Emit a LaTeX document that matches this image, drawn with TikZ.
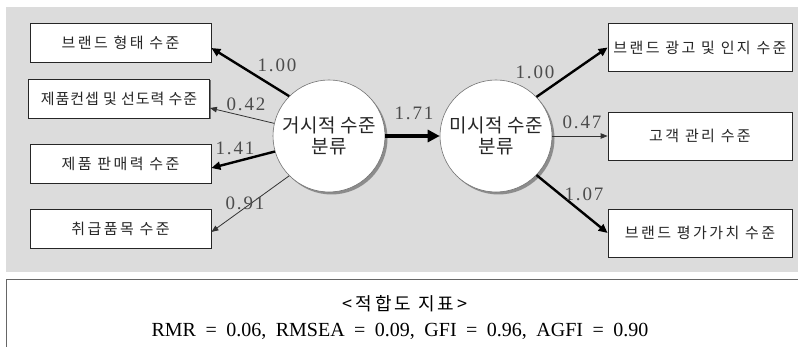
\documentclass[tikz,border=0pt]{standalone}
\usepackage{fontspec}
\setmainfont{Liberation Serif}
\newfontfamily\krbox[LetterSpace=16]{Noto Sans CJK KR}
\newfontfamily\krtight[LetterSpace=6]{Noto Sans CJK KR}
\newfontfamily\krcirc[LetterSpace=3]{Noto Sans CJK KR}
\newfontfamily\krtitle[LetterSpace=16]{Noto Sans CJK KR}
\newfontfamily\coef[LetterSpace=10]{Liberation Serif}
\usetikzlibrary{arrows.meta,shadows}

\definecolor{panel}{HTML}{DCDCDC}

\begin{document}
\begin{tikzpicture}[x=1pt,y=-1pt,
  indicator/.style={draw=black!85, line width=0.8pt, fill=white, inner sep=0pt,
    drop shadow={shadow xshift=1pt, shadow yshift=-1pt, fill=black!55, opacity=1},
    font=\krbox\fontsize{15}{17}\selectfont, text=black!85},
  lbox/.style={indicator, minimum width=181pt, minimum height=39pt},
  rbox/.style={indicator, minimum width=184pt, minimum height=48pt},
  latent/.style={circle, draw=black!55, line width=0.6pt, fill=white,
    minimum size=112pt, inner sep=0pt, align=center, text=black!85,
    drop shadow={shadow xshift=2.5pt, shadow yshift=-2.5pt, fill=black!45, opacity=1},
    font=\krcirc\fontsize{19}{21}\selectfont},
  coefl/.style={font=\coef\fontsize{19}{19}\selectfont, text=black!70, inner sep=0pt},
  heavy/.style={line width=2.4pt, draw=black, -{Triangle[length=9pt,width=8pt]}},
  light/.style={line width=0.8pt, draw=black!80, -{Triangle[length=7pt,width=5.5pt]}},
  structural/.style={line width=4.5pt, draw=black, -{Triangle[length=12pt,width=12pt]}}
]
\useasboundingbox (0,0) rectangle (798,347);

% grey panel behind the path model
\fill[panel] (6,7) rectangle (800,272);

% observed indicators, left side
\node[lbox] (m1) at (120.5,42.5) {브랜드 형태 수준};
\node[lbox, font=\krtight\fontsize{15}{17}\selectfont] (m2) at (119,98.5) {제품컨셉 및 선도력 수준};
\node[lbox] (m3) at (120.5,163.5) {제품 판매력 수준};
\node[lbox] (m4) at (120.5,228.5) {취급품목 수준};

% observed indicators, right side
\node[rbox] (n1) at (700,47.5) {브랜드 광고 및 인지 수준};
\node[rbox] (n2) at (700,136) {고객 관리 수준};
\node[rbox] (n3) at (700,233) {브랜드 평가가치 수준};

% latent factors
\node[latent] (macro) at (329,136) {거시적 수준\\분류};
\node[latent] (micro) at (496,136) {미시적 수준\\분류};

% loadings
\draw[heavy] (macro.135) -- ([yshift=-5.5pt]m1.east);
\draw[light] (macro.167) -- ([yshift=-9.5pt]m2.east);
\draw[heavy] (macro.196) -- ([yshift=-4.5pt]m3.east);
\draw[light] (macro.225) -- ([yshift=-3.5pt]m4.east);
\draw[structural] (macro) -- (micro);
\draw[heavy] (micro.44) -- (n1.west);
\draw[light] (micro.0) -- (n2.west);
\draw[heavy] (micro.-44) -- (n3.west);

% coefficients
\node[coefl] (c1) at (277,65) {1.00};
\node[coefl] (c2) at (246,104) {0.42};
\node[coefl] (c3) at (235,148) {1.41};
\node[coefl] (c4) at (245,203) {0.91};
\node[coefl] (c5) at (414,113) {1.71};
\node[coefl] (c6) at (535,72) {1.00};
\node[coefl] (c7) at (582,122) {0.47};
\node[coefl] (c8) at (584,194) {1.07};

% fit indices
\node[draw=black!60, line width=0.8pt, fill=white, anchor=north west,
  minimum width=820pt, minimum height=100pt, inner sep=0pt] (fitbox) at (6,279) {};
\node[font=\krtitle\fontsize{18}{18}\selectfont, inner sep=0pt] (fittitle) at (405,303.5) {<적합도 지표>};
\node[font=\fontsize{20}{20}\selectfont, anchor=base, inner sep=0pt] (fitvals) at (400,337)
  {\spaceskip=9.5pt RMR = 0.06, RMSEA = 0.09, GFI = 0.96, AGFI = 0.90};
\end{tikzpicture}
\end{document}
